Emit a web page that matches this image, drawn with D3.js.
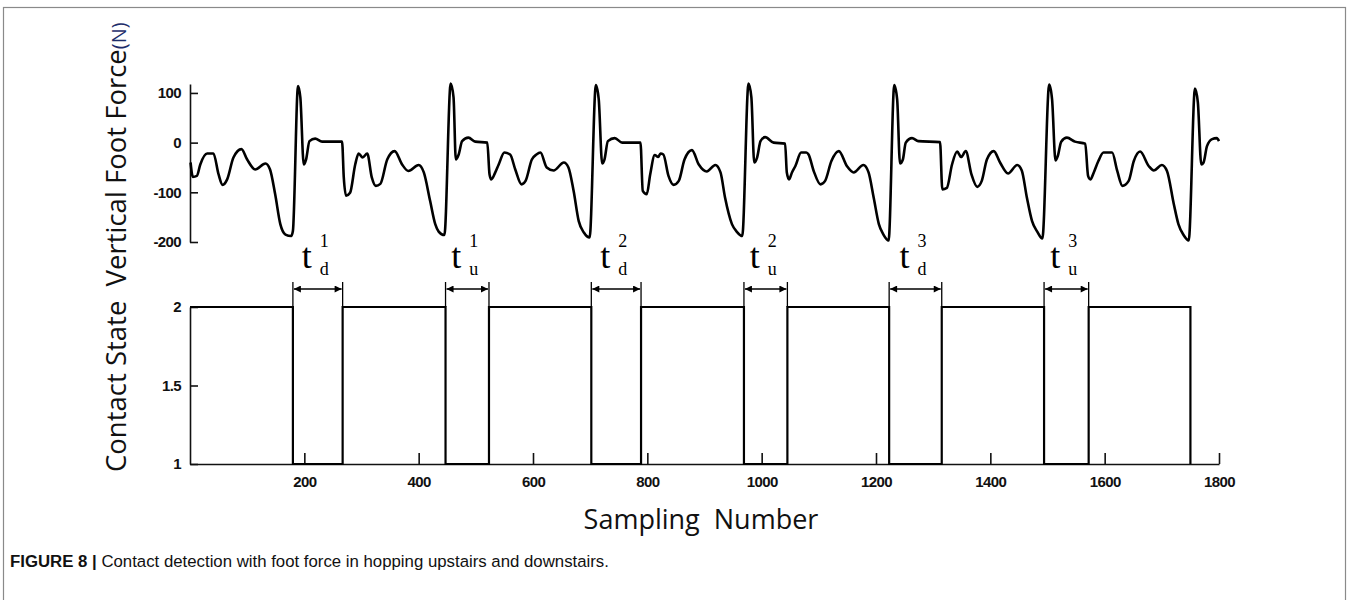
<!DOCTYPE html>
<html>
<head>
<meta charset="utf-8">
<script src="https://cdn.jsdelivr.net/npm/d3@7"></script>
<style>
  body { margin: 0; background: #fff; }
  .tick text { font-family: "Liberation Sans", Arial, sans-serif; font-weight: bold; font-size: 15px; letter-spacing: -0.6px; fill: #111; }
  .axis path, .axis line { stroke: #111; stroke-width: 1.6px; }
</style>
</head>
<body>
<script>
//Width and height
var w = 1351;
var h = 600;

// foot force (sample number, N)
var forceSample = [1,5,12,18,30,41,50,57,65,76,90,100,114,132,140,149,158,167,177,180,
  189,193,199,203,209,219,231,266,269,273,280,289,295,302,310,318,325,333,345,358,371,382,400,409,420,429,435,445,
  456,461,465,470,476,487,499,520,524,527,534,540,550,560,569,580,587,598,606,613,624,636,654,662,671,680,689,699,
  710,715,721,725,731,743,756,788,792,799,805,813,819,823,828,837,846,855,865,878,890,904,919,928,936,948,957,966,
  977,982,987,992,998,1006,1021,1041,1044,1048,1053,1059,1069,1078,1082,1091,1103,1111,1122,1135,1149,1161,1178,1187,1196,1205,1213,1222,
  1232,1237,1242,1247,1252,1263,1274,1312,1316,1324,1333,1342,1349,1357,1367,1377,1385,1394,1406,1417,1431,1447,1455,1464,1473,1482,1491,
  1503,1508,1514,1518,1524,1534,1548,1566,1571,1575,1581,1589,1598,1613,1622,1631,1642,1651,1662,1677,1686,1700,1709,1721,1729,1738,1747,
  1758,1763,1769,1773,1779,1788,1796,1800];
var forceN = [-40,-69,-67,-44,-22,-22,-64,-85,-74,-30,-13,-34,-54,-42,-54,-104,-164,-185,-188,-178,
  114,91,-44,-34,3,8,2,2,-70,-107,-101,-44,-22,-30,-22,-70,-87,-83,-34,-17,-44,-57,-45,-60,-117,-164,-179,-186,
  119,91,-34,-24,3,10,2,0,-64,-74,-60,-44,-20,-24,-54,-84,-77,-34,-24,-20,-50,-56,-40,-50,-97,-158,-181,-191,
  116,87,-42,-34,3,9,0,0,-97,-104,-64,-25,-29,-22,-24,-67,-85,-77,-34,-15,-44,-58,-45,-60,-111,-164,-180,-188,
  119,91,-40,-30,3,11,0,-2,-60,-74,-60,-47,-20,-20,-24,-57,-84,-77,-37,-17,-47,-60,-45,-60,-111,-164,-185,-197,
  116,87,-42,-34,0,9,3,1,-94,-91,-44,-18,-29,-17,-64,-89,-77,-34,-17,-40,-62,-45,-56,-111,-158,-179,-193,
  117,87,-36,-27,2,10,2,-2,-67,-74,-60,-37,-20,-20,-57,-87,-77,-37,-18,-47,-56,-45,-57,-124,-164,-186,-197,
  109,81,-44,-40,-7,7,9,3];

// contact state switches (sample number)
var liftOff = [180, 447, 702, 969, 1223, 1494, 1750];
var touchDown = [267, 523, 789, 1045, 1315, 1572];
var phaseSub = ["d", "u", "d", "u", "d", "u"];
var phaseSup = ["1", "1", "2", "2", "3", "3"];

// ticks
var xTicks = [200, 400, 600, 800, 1000, 1200, 1400, 1600, 1800];
var forceTicks = [-200, -100, 0, 100];
var stateTicks = [1, 1.5, 2];

// plain hyphen minus, no thousands comma
function plain(d){ return String(d); }

var svg = d3.select("body").append("svg")
    .attr("width", w).attr("height", h);

// frame round the figure
svg.append("rect")
    .attr("x", 3.5).attr("y", 7.5)
    .attr("width", 1342).attr("height", 620)
    .style("fill", "none").style("stroke", "#8a8a8a").style("stroke-width", 1.2);

var x = d3.scaleLinear().domain([0, 1800]).range([190, 1219]);
var yF = d3.scaleLinear().domain([-200, 118]).range([242, 84]);
var yS = d3.scaleLinear().domain([1, 2]).range([464, 307]);

// top: foot force
svg.append("g").attr("class", "axis")
    .attr("transform", "translate(" + x(0) + ",0)")
    .call(d3.axisLeft(yF).tickValues(forceTicks).tickSizeInner(-8).tickSizeOuter(0).tickPadding(9)
      .tickFormat(plain));

var forceData = forceSample.map(function(s, i){ return [s, forceN[i]]; });
svg.append("path")
    .datum(forceData)
    .attr("d", d3.line().x(function(d){ return x(d[0]); }).y(function(d){ return yF(d[1]); })
      .curve(d3.curveMonotoneX))
    .style("fill", "none").style("stroke", "#000").style("stroke-width", 2.6)
    .style("stroke-linejoin", "round");

// bottom: contact state
svg.append("g").attr("class", "axis")
    .attr("transform", "translate(" + x(0) + ",0)")
    .call(d3.axisLeft(yS).tickValues(stateTicks).tickSizeInner(-8).tickSizeOuter(0).tickPadding(9)
      .tickFormat(plain));

svg.append("g").attr("class", "axis")
    .attr("transform", "translate(0," + yS(1) + ")")
    .call(d3.axisBottom(x).tickValues(xTicks).tickSizeInner(-11).tickSizeOuter(0).tickPadding(12)
      .tickFormat(plain));

var stateData = [[0, 2]];
liftOff.forEach(function(s, i){
    stateData.push([s, 2], [s, 1]);
    if (i < touchDown.length) stateData.push([touchDown[i], 1], [touchDown[i], 2]);
});
svg.append("path")
    .datum(stateData)
    .attr("d", d3.line().x(function(d){ return x(d[0]); }).y(function(d){ return yS(d[1]); }))
    .style("fill", "none").style("stroke", "#000").style("stroke-width", 2.2);

// flight-time arrows and labels
var defs = svg.append("defs");
defs.append("marker").attr("id", "ah")
    .attr("viewBox", "0 0 10 10").attr("refX", 10).attr("refY", 5)
    .attr("markerWidth", 10).attr("markerHeight", 7).attr("markerUnits", "userSpaceOnUse")
    .attr("orient", "auto-start-reverse")
    .append("path").attr("d", "M0,0L10,5L0,10Z").style("fill", "#000");

var gaps = svg.selectAll("g.gap")
    .data(touchDown.map(function(t, i){ return {a: liftOff[i], b: t, sub: phaseSub[i], sup: phaseSup[i]}; }))
    .enter().append("g").attr("class", "gap");

gaps.append("line")
    .attr("x1", function(d){ return x(d.a); }).attr("x2", function(d){ return x(d.a); })
    .attr("y1", yS(2)).attr("y2", yS(2) - 25)
    .style("stroke", "#000").style("stroke-width", 1.3);
gaps.append("line")
    .attr("x1", function(d){ return x(d.b); }).attr("x2", function(d){ return x(d.b); })
    .attr("y1", yS(2)).attr("y2", yS(2) - 25)
    .style("stroke", "#000").style("stroke-width", 1.3);
gaps.append("line")
    .attr("x1", function(d){ return x(d.a) + 1; }).attr("x2", function(d){ return x(d.b) - 1; })
    .attr("y1", yS(2) - 18).attr("y2", yS(2) - 18)
    .attr("marker-start", "url(#ah)").attr("marker-end", "url(#ah)")
    .style("stroke", "#000").style("stroke-width", 1.6);

var lab = gaps.append("g")
    .attr("transform", function(d){ return "translate(" + ((x(d.a) + x(d.b)) / 2) + ",0)"; })
    .style("font-family", "'Liberation Serif', 'Times New Roman', serif").style("fill", "#000");
lab.append("text").attr("x", -16).attr("y", 268).style("font-size", "36px").text("t");
lab.append("text").attr("x", 2).attr("y", 247).style("font-size", "18px").text(function(d){ return d.sup; });
lab.append("text").attr("x", 2).attr("y", 275).style("font-size", "18px").text(function(d){ return d.sub; });

// axis titles
var title = svg.append("text")
    .attr("transform", "translate(126,472) rotate(-90)")
    .style("font-family", "'Open Sans', sans-serif").style("font-size", "27.5px").style("fill", "#111");
title.append("tspan").text("Contact State\u00a0\u00a0Vertical Foot Force");
title.append("tspan").style("font-size", "20px").style("fill", "#1d2d6b").text("(N)");

svg.append("text")
    .attr("x", 701).attr("y", 529).attr("text-anchor", "middle")
    .style("font-family", "'Open Sans', sans-serif").style("font-size", "27px").style("fill", "#111")
    .text("Sampling\u00a0\u00a0Number");

// caption
var cap = svg.append("text").attr("x", 10).attr("y", 567)
    .style("font-family", "'Liberation Sans', Arial, sans-serif").style("font-size", "16.8px").style("fill", "#111");
cap.append("tspan").style("font-weight", "bold").text("FIGURE 8 | ");
cap.append("tspan").text("Contact detection with foot force in hopping upstairs and downstairs.");
</script>
</body>
</html>
